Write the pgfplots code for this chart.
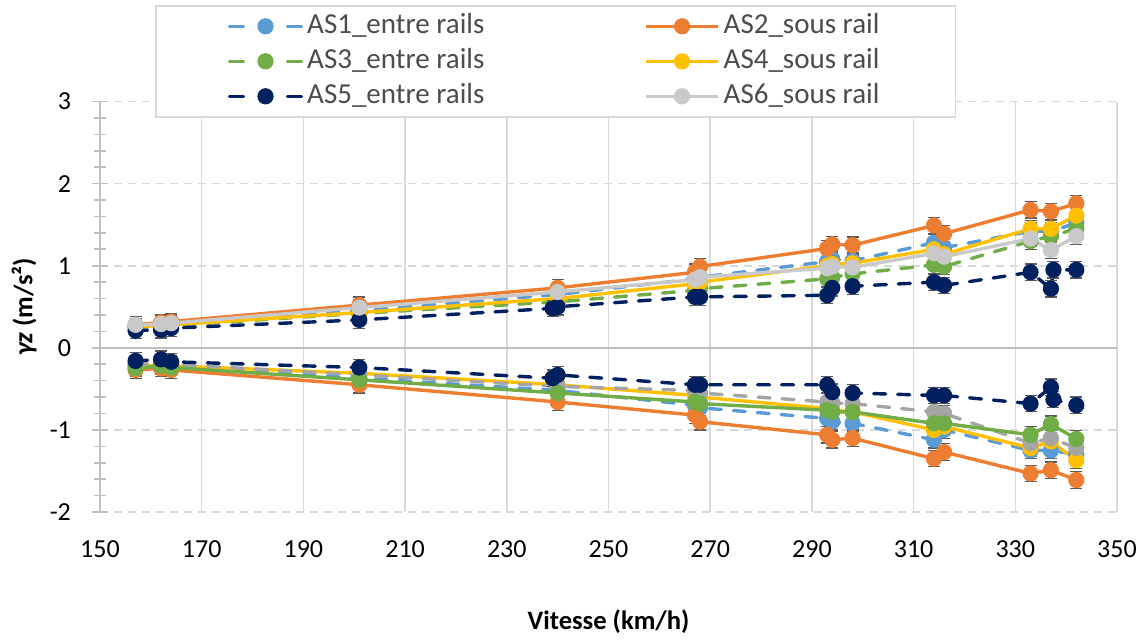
\documentclass[border=0pt]{standalone}
\usepackage{pgfplots}
\pgfplotsset{compat=1.18}
\usepackage{pgfplotstable}
\usepackage{fontspec}
\setmainfont{Carlito}

\definecolor{cAS1}{HTML}{5B9BD5}
\definecolor{cAS2}{HTML}{ED7D31}
\definecolor{cAS3}{HTML}{70AD47}
\definecolor{cAS4}{HTML}{FFC000}
\definecolor{cAS5}{HTML}{002060}
\definecolor{cAS6}{HTML}{C9C9C9}
\definecolor{cAS6b}{HTML}{A5A5A5}
\definecolor{gridc}{HTML}{D9D9D9}
\definecolor{axisc}{HTML}{BFBFBF}
\definecolor{errc}{HTML}{595959}

% vitesse (km/h), gamma_z max, gamma_z min (m/s^2)
\pgfplotstableread{
v max min
157 0.26 -0.22
162 0.27 -0.21
164 0.28 -0.23
201 0.45 -0.37
240 0.65 -0.52
267 0.84 -0.70
268 0.86 -0.73
293 1.05 -0.86
294 1.08 -0.90
298 1.06 -0.92
314 1.28 -1.12
316 1.22 -1.00
333 1.42 -1.25
337 1.42 -1.25
342 1.52 -1.30
}\tabASone
\pgfplotstableread{
v max min
157 0.28 -0.27
162 0.31 -0.25
164 0.32 -0.27
201 0.52 -0.45
240 0.73 -0.66
267 0.92 -0.82
268 0.99 -0.90
293 1.21 -1.06
294 1.26 -1.12
298 1.25 -1.10
314 1.49 -1.35
316 1.39 -1.27
333 1.68 -1.53
337 1.66 -1.49
342 1.76 -1.61
}\tabAStwo
\pgfplotstableread{
v max min
157 0.25 -0.25
162 0.26 -0.22
164 0.27 -0.24
201 0.42 -0.39
240 0.56 -0.55
267 0.70 -0.66
268 0.72 -0.68
293 0.84 -0.76
294 0.86 -0.78
298 0.90 -0.78
314 1.01 -0.92
316 0.99 -0.92
333 1.30 -1.06
337 1.36 -0.93
342 1.45 -1.11
}\tabASthree
\pgfplotstableread{
v max min
157 0.26 -0.23
162 0.27 -0.21
164 0.28 -0.22
201 0.43 -0.31
240 0.60 -0.45
267 0.78 -0.58
268 0.80 -0.60
293 1.00 -0.74
294 1.02 -0.76
298 1.03 -0.78
314 1.20 -1.00
316 1.14 -0.96
333 1.45 -1.22
337 1.45 -1.14
342 1.61 -1.37
}\tabASfour
\pgfplotstableread{
v max min
157 0.21 -0.16
162 0.22 -0.14
164 0.24 -0.17
201 0.34 -0.24
239 0.48 -0.37
240 0.50 -0.33
267 0.62 -0.45
268 0.62 -0.45
293 0.64 -0.45
294 0.73 -0.54
298 0.75 -0.55
314 0.80 -0.58
316 0.76 -0.58
333 0.92 -0.68
337 0.72 -0.48
337.5 0.95 -0.63
342 0.95 -0.70
}\tabASfive
\pgfplotstableread{
v max min
157 0.28 -0.20
162 0.29 -0.19
164 0.30 -0.20
201 0.49 -0.33
240 0.68 -0.47
267 0.83 -0.52
268 0.86 -0.55
293 0.97 -0.66
294 0.99 -0.67
298 0.98 -0.68
314 1.15 -0.78
316 1.11 -0.80
333 1.33 -1.16
337 1.19 -1.10
342 1.36 -1.22
}\tabASsix

\pgfplotsset{
  serie/.style={color=#1, line width=1.7pt, mark=*, mark size=3.8pt,
    mark options={solid, fill=#1, draw=#1, line width=0.5pt},
    /pgfplots/error bars/y dir=both,
    /pgfplots/error bars/y fixed=0.1,
    /pgfplots/error bars/error bar style={color=errc, line width=0.6pt, solid},
    /pgfplots/error bars/error mark options={rotate=90, mark size=3pt, errc, line width=0.6pt}},
  tirets/.style={dash pattern=on 6pt off 6pt, line cap=round,
    legend image code/.code={\draw[mark repeat=2,mark phase=2,dash pattern=on 7pt off 22pt]
      plot coordinates {(0pt,0pt) (18pt,0pt) (36pt,0pt)};}},
}

\begin{document}
\begin{tikzpicture}
\path[use as bounding box] (-50pt,-63.5pt) rectangle (522pt,256pt);
\begin{axis}[
  at={(0pt,0pt)}, anchor=south west,
  scale only axis, width=508.5pt, height=205.25pt,
  xmin=150, xmax=350, ymin=-2, ymax=3,
  xtick={150,170,...,350}, ytick={-2,-1,...,3},
  minor y tick num=4,
  axis x line*=bottom, axis y line*=left,
  x axis line style={draw=none, -},
  y axis line style={draw=axisc, line width=1pt, -},
  xtick style={draw=none},
  ytick style={draw=axisc, line width=0.8pt},
  minor y tick style={draw=axisc, line width=0.8pt},
  tick align=center,
  major tick length=8pt, minor tick length=6pt,
  xmajorgrids, ymajorgrids,
  x grid style={gridc, line width=0.8pt, solid},
  y grid style={gridc, line width=0.8pt, dash pattern=on 4pt off 3pt},
  tick label style={font=\fontsize{13}{15}\selectfont, black},
  /pgf/number format/assume math mode=true,
  xticklabel style={yshift=-7pt},
  yticklabel style={xshift=-7pt},
  xlabel={\textbf{Vitesse (km/h)}},
  ylabel={\textbf{\textit{γz}} \textbf{(m/s²)}},
  xlabel style={at={(axis description cs:0.5,-0.268)}, anchor=center, font=\fontsize{13.3}{15}\selectfont},
  ylabel style={at={(axis description cs:-0.0747,0.5)}, anchor=center, font=\fontsize{13.3}{15}\selectfont},
  clip=false,
  legend columns=2,
  legend cell align=left,
  legend image code/.code={\draw[mark repeat=2,mark phase=2]
      plot coordinates {(0pt,0pt) (18pt,0pt) (36pt,0pt)};},
  legend style={at={(axis description cs:0.0541,1.2351)}, anchor=north west,
    draw=gridc, line width=0.8pt, fill=white,
    font=\fontsize{14.5}{17.5}\selectfont, text=black!70,
    inner xsep=36pt, inner ysep=1.5pt,
    nodes={inner ysep=1.75pt, inner xsep=2pt, text height=10.5pt, text depth=3.5pt},
    /tikz/every even column/.append style={column sep=78pt}},
]
% ligne du zéro
\draw[axisc, line width=1pt] (axis cs:150,0) -- (axis cs:350,0);

% maxima (légende)
\addplot[serie=cAS1, tirets] table[x=v, y=max] {\tabASone};
\addlegendentry{AS1\_entre rails}
\addplot[serie=cAS2] table[x=v, y=max] {\tabAStwo};
\addlegendentry{AS2\_sous rail}
\addplot[serie=cAS3, tirets] table[x=v, y=max] {\tabASthree};
\addlegendentry{AS3\_entre rails}
\addplot[serie=cAS4] table[x=v, y=max] {\tabASfour};
\addlegendentry{AS4\_sous rail}
\addplot[serie=cAS5, tirets] table[x=v, y=max] {\tabASfive};
\addlegendentry{AS5\_entre rails}
\addplot[serie=cAS6] table[x=v, y=max] {\tabASsix};
\addlegendentry{AS6\_sous rail}

% minima
\addplot[serie=cAS1, tirets, forget plot] table[x=v, y=min] {\tabASone};
\addplot[serie=cAS2, forget plot] table[x=v, y=min] {\tabAStwo};
\addplot[serie=cAS4, forget plot] table[x=v, y=min] {\tabASfour};
\addplot[serie=cAS6b, tirets, forget plot] table[x=v, y=min] {\tabASsix};
\addplot[serie=cAS3, forget plot] table[x=v, y=min] {\tabASthree};
\addplot[serie=cAS5, tirets, forget plot] table[x=v, y=min] {\tabASfive};
\end{axis}
\end{tikzpicture}
\end{document}
